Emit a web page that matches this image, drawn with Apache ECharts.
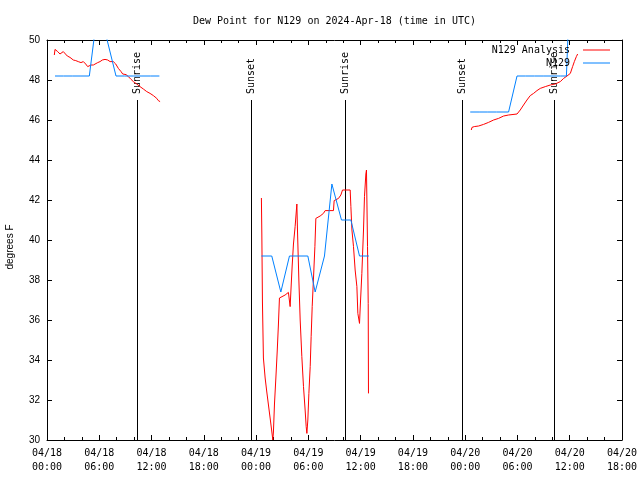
<!DOCTYPE html>
<html><head><meta charset="utf-8">
<script src="https://cdn.jsdelivr.net/npm/echarts@6/dist/echarts.min.js"></script>
<style>html,body{margin:0;padding:0;background:#fff}#c{width:640px;height:480px}</style>
</head><body><div id="c"></div>
<script>
// hours since 2024-04-18 00:00 UTC
const xTickLabels = ['04/18\n00:00','04/18\n06:00','04/18\n12:00','04/18\n18:00',
  '04/19\n00:00','04/19\n06:00','04/19\n12:00','04/19\n18:00',
  '04/20\n00:00','04/20\n06:00','04/20\n12:00','04/20\n18:00'];

const analysisDay1 = [[0.84,49.25],[0.92,49.53],[1.23,49.42],[1.49,49.30],[1.69,49.20],[1.87,49.42],[2.07,49.33],[2.33,49.20],[2.64,49.13],[2.84,49.03],[3.02,49.00],[3.30,48.97],[3.59,48.92],[3.90,48.87],[4.17,48.92],[4.44,48.80],[4.67,48.67],[4.86,48.63],[5.05,48.75],[5.32,48.75],[5.51,48.80],[5.82,48.87],[6.09,48.92],[6.35,49.00],[6.66,49.03],[6.97,49.00],[7.24,48.92],[7.43,48.87],[7.61,48.92],[7.89,48.80],[8.19,48.58],[8.50,48.42],[8.69,48.30],[8.88,48.37],[9.07,48.27],[9.34,48.17],[9.65,48.03],[9.91,47.92],[10.30,47.80],[10.68,47.67],[11.06,47.55],[11.45,47.42],[11.83,47.33],[12.21,47.22],[12.60,47.08],[12.78,46.97],[12.98,46.92]];

const analysisDay2 = [[24.61,42.1],[24.66,40.3],[24.73,36.9],[24.84,34.1],[25.04,33.1],[25.23,32.4],[25.42,31.75],[25.61,31.1],[25.81,30.4],[25.92,30.0],[25.99,30.4],[26.11,31.8],[26.27,33.1],[26.42,34.4],[26.56,35.75],[26.68,37.1],[26.88,37.15],[27.33,37.25],[27.71,37.38],[27.91,36.67],[27.99,37.4],[28.14,38.7],[28.29,39.8],[28.48,40.67],[28.68,41.8],[28.75,40.5],[28.91,38.0],[29.06,36.0],[29.25,34.17],[29.44,32.67],[29.63,31.5],[29.75,30.67],[29.83,30.33],[29.94,31.0],[30.06,32.33],[30.21,33.67],[30.32,35.17],[30.44,36.67],[30.58,38.0],[30.75,39.67],[30.86,41.08],[31.35,41.2],[31.73,41.33],[31.93,41.47],[32.88,41.47],[32.96,41.97],[33.46,42.08],[33.73,42.25],[33.92,42.5],[34.80,42.5],[34.88,41.67],[35.00,40.5],[35.18,39.67],[35.37,38.5],[35.57,37.67],[35.68,36.33],[35.80,36.25],[35.87,35.83],[35.95,36.6],[36.14,38.33],[36.33,40.5],[36.44,42.17],[36.60,43.3],[36.67,43.5],[36.79,39.67],[36.87,36.83],[36.90,32.33]];

const analysisDay3 = [[48.70,45.5],[48.78,45.63],[49.04,45.67],[49.54,45.7],[50.11,45.78],[50.68,45.88],[51.26,46.0],[51.83,46.08],[52.41,46.2],[52.98,46.25],[53.95,46.3],[54.32,46.5],[54.70,46.75],[55.09,47.0],[55.47,47.22],[55.85,47.33],[56.24,47.47],[56.62,47.58],[57.20,47.67],[57.77,47.75],[58.34,47.8],[58.92,47.92],[59.30,48.08],[59.69,48.2],[60.07,48.33],[60.33,48.67],[60.53,48.92],[60.76,49.17],[60.91,49.3]];

const obsDay1 = [[0.92,48.2],[1.9,48.2],[2.9,48.2],[3.9,48.2],[4.86,48.2],[5.9,51.8],[6.9,50.0],[7.92,48.2],[8.9,48.2],[9.9,48.2],[10.9,48.2],[11.9,48.2],[12.9,48.2]];
const obsDay2 = [[24.61,39.2],[25.8,39.2],[26.84,37.4],[27.83,39.2],[28.85,39.2],[29.94,39.2],[30.78,37.4],[31.85,39.2],[32.7,42.8],[33.8,41.0],[34.88,41.0],[35.87,39.2],[36.95,39.2]];
const obsDay3 = [[48.58,46.4],[49.6,46.4],[50.6,46.4],[51.6,46.4],[52.98,46.4],[53.95,48.2],[54.95,48.2],[55.95,48.2],[56.95,48.2],[57.95,48.2],[58.95,48.2],[59.62,48.2],[60.1,53.6]];

const eventHours = [10.30, 23.43, 34.26, 47.63, 58.15];
const eventLabels = ['Sunrise','Sunset','Sunrise','Sunset','Sunrise'];

const MONO = 'DejaVu Sans Mono';
const SANS = 'Liberation Sans';

function joinSegs(segs){
  const out = [];
  segs.forEach((s,i)=>{ if(i>0) out.push([(segs[i-1][segs[i-1].length-1][0]+s[0][0])/2,'-']); s.forEach(p=>out.push(p)); });
  return out;
}

const chart = echarts.init(document.getElementById('c'), null, {renderer:'canvas'});
const axisCommon = {
  type:'value', min:0, max:66, interval:6,
  axisLine:{show:true, onZero:false, lineStyle:{color:'#000', width:1}},
  axisTick:{show:true, inside:true, length:5, lineStyle:{color:'#000'}},
  minorTick:{show:true, splitNumber:3, length:3, lineStyle:{color:'#000'}},
  splitLine:{show:false}
};
const yCommon = {
  type:'value', min:30, max:50, interval:2,
  axisLine:{show:true, onZero:false, lineStyle:{color:'#000', width:1}},
  axisTick:{show:true, inside:true, length:5, lineStyle:{color:'#000'}},
  splitLine:{show:false}
};
chart.setOption({
  animation:false,
  backgroundColor:'#fff',
  title:{
    text:'Dew Point for N129 on 2024-Apr-18 (time in UTC)',
    left:188, top:11,
    textStyle:{fontFamily:MONO, fontSize:10, fontWeight:'normal', color:'#000'}
  },
  legend:{
    orient:'vertical', right:25, top:39, align:'right',
    itemWidth:27, itemHeight:1, itemGap:1, icon:'rect',
    data:['N129 Analysis','N129'],
    textStyle:{fontFamily:MONO, fontSize:10, color:'#000', lineHeight:12, padding:[0,8,0,0]}
  },
  grid:{left:47, right:18, top:40, bottom:40, containLabel:false, outerBoundsMode:'none'},
  xAxis:[
    Object.assign({}, axisCommon, {position:'bottom',
      axisLabel:{show:true, margin:6, fontFamily:MONO, fontSize:10, color:'#000', lineHeight:14,
        showMinLabel:true, showMaxLabel:true, hideOverlap:false,
        formatter:(v)=>xTickLabels[Math.round(v/6)]}}),
    Object.assign({}, axisCommon, {position:'top', axisLabel:{show:false}})
  ],
  yAxis:[
    Object.assign({}, yCommon, {position:'left',
      name:'degrees F', nameLocation:'middle', nameGap:32, nameRotate:90,
      nameTextStyle:{fontFamily:SANS, fontSize:10, color:'#000', padding:[0,14,0,0]},
      axisLabel:{show:true, margin:7, fontFamily:SANS, fontSize:10, color:'#000'}}),
    Object.assign({}, yCommon, {position:'right', axisLabel:{show:false}})
  ],
  series:[
    {
      type:'custom', name:'events', silent:true, clip:false,
      data:eventHours.map((h,i)=>[h,i]),
      encode:{x:0},
      renderItem:(params, api)=>{
        const t = api.value(0);
        const idx = api.value(1);
        const top = api.coord([t,47]);
        const bot = api.coord([t,30]);
        const x = Math.round(top[0])+0.5;
        return {type:'group', children:[
          {type:'line', shape:{x1:x, y1:top[1], x2:x, y2:bot[1]}, style:{stroke:'#000', lineWidth:1}},
          {type:'text', x:x, y:top[1]-6, rotation:Math.PI/2,
            style:{text:eventLabels[idx], font:'10px '+MONO, fill:'#000',
              align:'left', verticalAlign:'middle', textAlign:'left', textVerticalAlign:'middle'}}
        ]};
      }
    },
    {
      type:'line', name:'N129 Analysis', data:joinSegs([analysisDay1, analysisDay2, analysisDay3]),
      showSymbol:false, symbol:'none', clip:true, connectNulls:false,
      lineStyle:{color:'#ff0000', width:1}, itemStyle:{color:'#ff0000'}
    },
    {
      type:'line', name:'N129', data:joinSegs([obsDay1, obsDay2, obsDay3]),
      showSymbol:false, symbol:'none', clip:true, connectNulls:false,
      lineStyle:{color:'#0080ff', width:1}, itemStyle:{color:'#0080ff'}
    }
  ]
});
</script></body></html>
